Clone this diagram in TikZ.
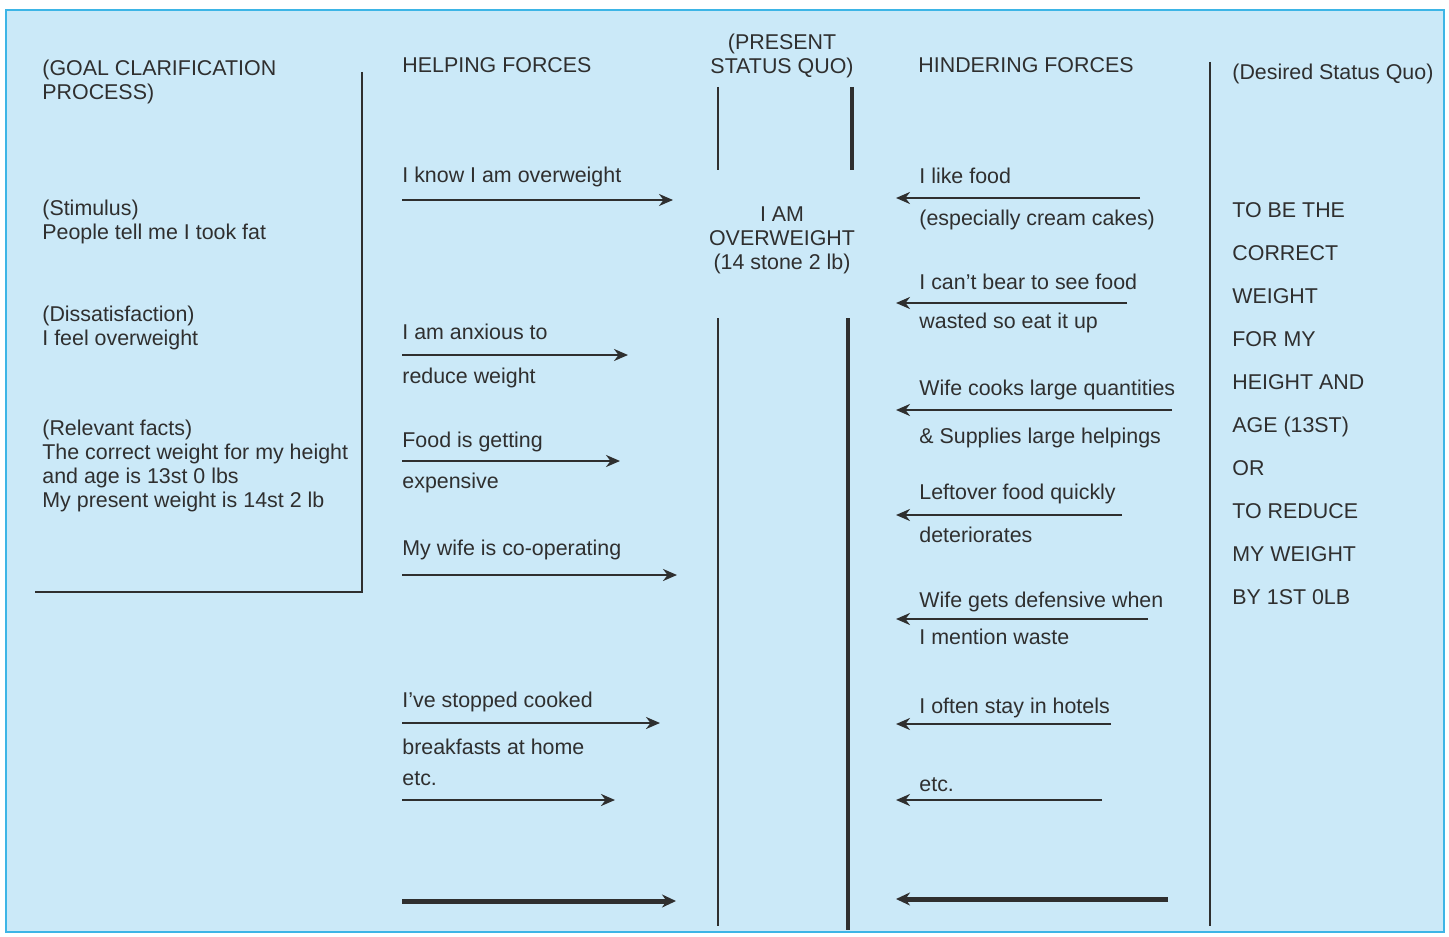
\documentclass[tikz,border=0pt]{standalone}
\usepackage{fontspec}
\setmainfont{Liberation Sans}
\usetikzlibrary{arrows.meta, positioning}
\definecolor{paneblue}{HTML}{CBE9F8}
\definecolor{frameblue}{HTML}{3DB5E6}
\definecolor{ink}{HTML}{2F2F2F}

\begin{document}
\begin{tikzpicture}[x=0.5pt,y=-0.5pt,font=\fontsize{10.7}{12}\selectfont,
    txt/.style={text=ink,inner sep=0pt,anchor=base west},
    para/.style={text=ink,inner sep=0pt,anchor=base west,align=left},
    force/.style={draw=ink,line width=1.3pt,-{Stealth[length=7pt,width=6pt]}},
    bigforce/.style={draw=ink,line width=2.5pt,-{Stealth[length=7pt,width=6.5pt]}},
    divider/.style={draw=ink,line width=0.8pt}]
%
\useasboundingbox (0,0) rectangle (1449,936);
\fill[white] (0,0) rectangle (1449,936);
\draw[frameblue,fill=paneblue,line width=1.3pt] (6,10) rectangle (1444,932);

%
\draw[divider] (362,72)--(362,592)--(35,592);
\draw[divider] (718,87)--(718,170);
\draw[divider,line width=1.6pt] (852,87)--(852,170);
\draw[divider] (718,318)--(718,926);
\draw[divider,line width=1.6pt] (848,318)--(848,930);
\draw[divider,line width=1.1pt] (1210,62)--(1210,926);

%
\node[para] (goal) at (42,100) {(GOAL CLARIFICATION\\PROCESS)};
\node[txt] (helphead) at (402,73) {HELPING FORCES};
\node[text=ink,inner sep=0pt,anchor=base,align=center] (present) at (782,74) {(PRESENT\\STATUS QUO)};
\node[txt] (hinderhead) at (918,73) {HINDERING FORCES};
\node[txt] (desired) at (1232,80) {(Desired Status Quo)};

%
\node[para] (stimulus) at (42,240) {(Stimulus)\\People tell me I took fat};
\node[para] (dissat) at (42,345) {(Dissatisfaction)\\I feel overweight};
\node[para] (facts) at (42,507) {(Relevant facts)\\The correct weight for my height\\and age is 13st 0 lbs\\My present weight is 14st 2 lb};

%
\node[text=ink,inner sep=0pt,anchor=base,align=center] (now) at (782,269) {I AM\\OVERWEIGHT\\(14 stone 2 lb)};

%
\node[para,font=\fontsize{10.7}{21.5}\selectfont] (goalstate) at (1232,604)
    {TO BE THE\\CORRECT\\WEIGHT\\FOR MY\\HEIGHT AND\\AGE (13ST)\\OR\\TO REDUCE\\MY WEIGHT\\BY 1ST 0LB};

%
\node[txt] (h1t) at (402,183) {I know I am overweight};
\node[txt] (h2t) at (402,339) {I am anxious to};
\node[txt] (h2b) at (402,383) {reduce weight};
\node[txt] (h3t) at (402,447) {Food is getting};
\node[txt] (h3b) at (402,488) {expensive};
\node[txt] (h4t) at (402,555) {My wife is co-operating};
\node[txt] (h5t) at (402,707) {I’ve stopped cooked};
\node[txt] (h5b) at (402,754) {breakfasts at home};
\node[txt] (h6t) at (402,785) {etc.};

\foreach \n/\y/\xb in {h1/200/673, h2/355/628, h3/461/620, h4/575/677, h5/723/660, h6/800/615}{
    \coordinate (\n a) at (402,\y);
    \coordinate (\n b) at (\xb,\y);
    \draw[force] (\n a) -- (\n b);
}
\coordinate (h7a) at (402,901);
\coordinate (h7b) at (676,901);
\draw[bigforce] (h7a) -- (h7b);

%
\node[txt] (g1t) at (919,184) {I like food};
\node[txt] (g1b) at (919,226) {(especially cream cakes)};
\node[txt] (g2t) at (919,289) {I can’t bear to see food};
\node[txt] (g2b) at (919,328) {wasted so eat it up};
\node[txt] (g3t) at (919,395) {Wife cooks large quantities};
\node[txt] (g3b) at (919,443) {\& Supplies large helpings};
\node[txt] (g4t) at (919,499) {Leftover food quickly};
\node[txt] (g4b) at (919,542) {deteriorates};
\node[txt] (g5t) at (919,607) {Wife gets defensive when};
\node[txt] (g5b) at (919,644) {I mention waste};
\node[txt] (g6t) at (919,713) {I often stay in hotels};
\node[txt] (g7t) at (919,791) {etc.};

\foreach \n/\y/\xa in {g1/198/1140, g2/303/1127, g3/410/1172, g4/515/1122, g5/619/1148, g6/724/1111, g7/800/1102}{
    \coordinate (\n a) at (\xa,\y);
    \coordinate (\n b) at (896,\y);
    \draw[force] (\n a) -- (\n b);
}
\coordinate (g8a) at (1168,899);
\coordinate (g8b) at (896,899);
\draw[bigforce] (g8a) -- (g8b);
\end{tikzpicture}
\end{document}
